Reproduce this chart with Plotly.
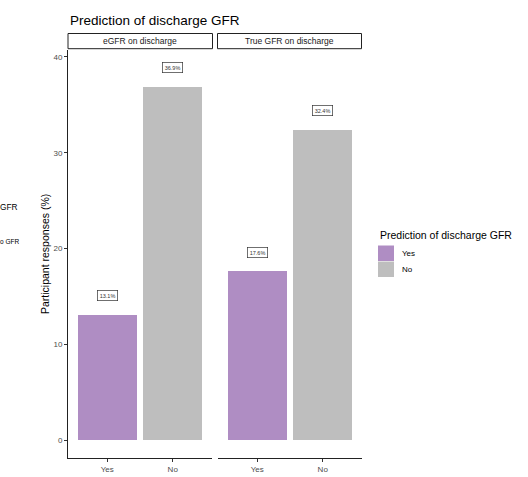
import plotly.graph_objects as go

W, H = 528, 477

# ---- data ----
facets = ["eGFR on discharge", "True GFR on discharge"]
categories = ["Yes", "No"]
values_egfr = [13.1, 36.9]
values_true = [17.6, 32.4]
colors = {"Yes": "#AF8DC3", "No": "#BEBEBE"}
yticks = [0, 10, 20, 30, 40]
legend_title = "Prediction of discharge GFR"
title = "Prediction of discharge GFR"
ylabel = "Participant responses (%)"
edge_texts = ["GFR", "o GFR"]

FONT = "Helvetica, Liberation Sans, Arial, sans-serif"

def px_x(p):
    return p / W

def px_y(p):
    return (H - p) / H

fig = go.Figure()

series = [values_egfr, values_true]
for i, vals in enumerate(series):
    xa = "x" if i == 0 else "x2"
    ya = "y" if i == 0 else "y2"
    fig.add_trace(go.Bar(
        x=categories, y=vals, xaxis=xa, yaxis=ya,
        marker=dict(color=[colors[c] for c in categories], line=dict(width=0)),
        width=0.9, showlegend=False, hoverinfo="x+y",
    ))
    for c, v in zip(categories, vals):
        fig.add_annotation(
            x=c, y=v + 2, xref=xa, yref=ya, text=f"{v:.1f}%",
            showarrow=False, font=dict(family=FONT, size=5.5, color="#333333"),
            bordercolor="#333333", borderwidth=0.7, borderpad=2, bgcolor="white",
        )

ymin, ymax = -1.88, 40.73
dom_y = [px_y(458), px_y(50)]
common_x = dict(
    type="category", range=[-0.6, 1.6], showline=True, linecolor="#222222",
    linewidth=1, ticks="outside", ticklen=3, tickcolor="#333333",
    tickfont=dict(family=FONT, size=8, color="#4d4d4d"), showgrid=False,
    zeroline=False, fixedrange=True,
)
fig.update_layout(
    width=W, height=H, autosize=False,
    margin=dict(l=0, r=0, t=0, b=0),
    paper_bgcolor="white", plot_bgcolor="white",
    bargap=0,
    xaxis=dict(domain=[px_x(68), px_x(212)], anchor="y", **common_x),
    xaxis2=dict(domain=[px_x(218), px_x(362)], anchor="y2", **common_x),
    yaxis=dict(domain=dom_y, range=[ymin, ymax], tickvals=yticks,
               showline=True, linecolor="#222222", linewidth=1,
               ticks="outside", ticklen=3, tickcolor="#333333",
               tickfont=dict(family=FONT, size=8, color="#4d4d4d"),
               showgrid=False, zeroline=False, anchor="x"),
    yaxis2=dict(domain=dom_y, range=[ymin, ymax], tickvals=yticks,
                showticklabels=False, showline=False, ticks="",
                showgrid=False, zeroline=False, anchor="x2"),
    showlegend=False,
)

# strips
for i, (x0, x1) in enumerate([(68, 212.5), (217.5, 361.5)]):
    fig.add_shape(type="rect", xref="paper", yref="paper",
                  x0=px_x(x0), x1=px_x(x1), y0=px_y(48.7), y1=px_y(33.5),
                  line=dict(color="#222222", width=1), fillcolor="white")
    fig.add_annotation(xref="paper", yref="paper", x=px_x((x0 + x1) / 2),
                       y=px_y(41.2), text=facets[i], showarrow=False,
                       font=dict(family=FONT, size=8.5, color="#1a1a1a"),
                       xanchor="center", yanchor="middle")

# title
fig.add_annotation(xref="paper", yref="paper", x=px_x(67.5), y=px_y(21),
                   text=title, showarrow=False, xanchor="left", yanchor="middle",
                   font=dict(family=FONT, size=13.5, color="black"))

# y label
fig.add_annotation(xref="paper", yref="paper", x=px_x(45), y=px_y(254),
                   text=ylabel, showarrow=False, textangle=-90,
                   xanchor="center", yanchor="middle",
                   font=dict(family=FONT, size=10.5, color="black"))

# legend (manual)
fig.add_annotation(xref="paper", yref="paper", x=px_x(378), y=px_y(235),
                   text=legend_title, showarrow=False, xanchor="left",
                   yanchor="middle", font=dict(family=FONT, size=10.5, color="black"))
for j, c in enumerate(categories):
    top = 245.5 + j * 16
    fig.add_shape(type="rect", xref="paper", yref="paper",
                  x0=px_x(378), x1=px_x(394), y0=px_y(top + 15.5), y1=px_y(top),
                  line=dict(width=0), fillcolor=colors[c])
    fig.add_annotation(xref="paper", yref="paper", x=px_x(400), y=px_y(top + 7.8),
                       text=c, showarrow=False, xanchor="left", yanchor="middle",
                       font=dict(family=FONT, size=8, color="black"))

# text fragments visible at the left edge
fig.add_annotation(xref="paper", yref="paper", x=px_x(-2), y=px_y(207.3),
                   text=edge_texts[0], showarrow=False,
                   xanchor="left", yanchor="middle",
                   font=dict(family=FONT, size=8.3, color="black"))
fig.add_annotation(xref="paper", yref="paper", x=px_x(-2.5), y=px_y(241.7),
                   text=edge_texts[1], showarrow=False,
                   xanchor="left", yanchor="middle",
                   font=dict(family=FONT, size=6.5, color="black"))

fig.write_html("out.html", config={"displayModeBar": False},
               post_script="document.body.style.margin='0px';")
